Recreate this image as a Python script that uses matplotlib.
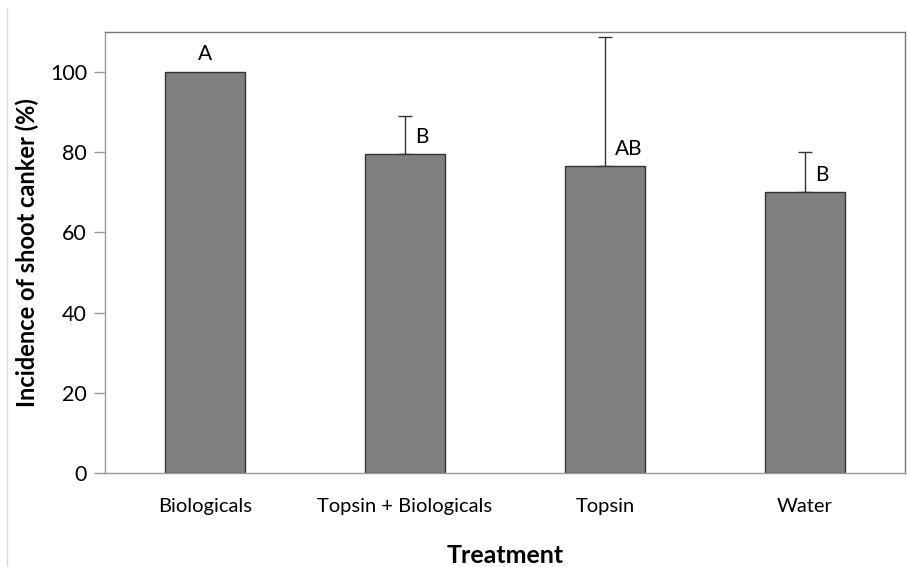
import matplotlib
matplotlib.use("Agg")
import matplotlib.pyplot as plt
import numpy as np

treatments = ["Biologicals", "Topsin + Biologicals", "Topsin", "Water"]
incidence = [100.0, 79.5, 76.5, 70.0]
err_upper = [0.0, 9.5, 32.3, 10.0]
letters = ["A", "B", "AB", "B"]

plt.rcParams["font.family"] = ["Lato", "DejaVu Sans"]

fig = plt.figure(figsize=(9.1, 5.67), dpi=100)
ax = fig.add_axes([105 / 910, 1 - 473 / 567, 800 / 910, 441 / 567])

x = np.arange(len(treatments))
ax.bar(x, incidence, width=0.4, color="#808080", edgecolor="#333333",
       linewidth=1.0, zorder=2)
for i in range(len(x)):
    if err_upper[i] > 0:
        ax.errorbar(x[i], incidence[i], yerr=[[0], [err_upper[i]]], fmt="none",
                    ecolor="#333333", elinewidth=1.0, capsize=5, capthick=1.0,
                    zorder=1)

# significance letters
for i, lab in enumerate(letters):
    if err_upper[i] > 0:
        ax.text(x[i] + 0.05, incidence[i] + 1.8, lab, ha="left", va="bottom",
                fontsize=15)
    else:
        ax.text(x[i], incidence[i] + 2.0, lab, ha="center", va="bottom",
                fontsize=15)

ax.set_xlim(-0.5, 3.5)
ax.set_ylim(0, 110)
ax.set_yticks(range(0, 101, 20))
ax.set_xticks(x)
ax.set_xticklabels(treatments, fontsize=14.5)
ax.tick_params(axis="y", labelsize=15.5, length=8, width=1, color="#999999",
               pad=5)
ax.tick_params(axis="x", length=0, pad=18)

for side in ["top", "right"]:
    ax.spines[side].set_color("#777777")
for side in ["left", "bottom"]:
    ax.spines[side].set_color("#999999")
for s in ax.spines.values():
    s.set_linewidth(1.0)

ax.set_ylabel("Incidence of shoot canker (%)", fontsize=17, fontweight="bold",
              labelpad=8)
ax.set_xlabel("Treatment", fontsize=18, fontweight="bold", labelpad=21)

# faint outer chart-area edge on the left
fig.add_artist(plt.Line2D([7 / 910, 7 / 910], [0, 1 - 8 / 567],
                          transform=fig.transFigure, color="#dddddd", lw=1))

fig.savefig("out.png", dpi=100)
